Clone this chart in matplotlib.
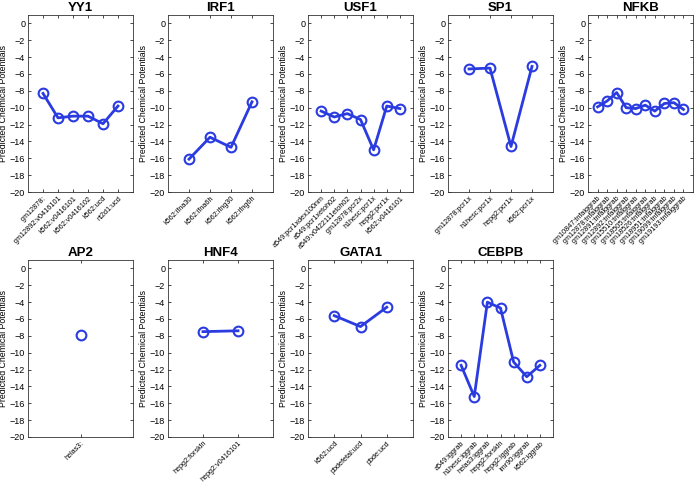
import matplotlib
matplotlib.use("Agg")
import matplotlib.pyplot as plt

plt.rcParams['font.family'] = ['Liberation Sans', 'DejaVu Sans']

# data
yy1_labels = ["gm12878:", "gm12892:v0416101", "k562:v0416101", "k562:v0416102", "k562:ucd", "nt2d1:ucd"]
yy1_vals = [-8.3, -11.2, -11.0, -11.0, -11.9, -9.8]

irf1_labels = ["k562:ifna30", "k562:ifna6h", "k562:ifng30", "k562:ifng6h"]
irf1_vals = [-16.1, -13.5, -14.7, -9.3]

usf1_labels = ["a549:pcr1xdex100nm", "a549:pcr1xetoh02", "a549:v0422111etoh02", "gm12878:pcr2x",
               "h1hesc:pcr1x", "hepg2:pcr1x", "k562:v0416101"]
usf1_vals = [-10.4, -11.1, -10.7, -11.4, -15.0, -9.8, -10.1]

sp1_labels = ["gm12878:pcr1x", "h1hesc:pcr1x", "hepg2:pcr1x", "k562:pcr1x"]
sp1_vals = [-5.4, -5.3, -14.6, -5.1]

nfkb_labels = ["gm10847:tnfaiggrab", "gm12878:tnfaiggrab", "gm12891:tnfaiggrab", "gm12892:tnfaiggrab",
               "gm15510:tnfaiggrab", "gm18505:tnfaiggrab", "gm18526:tnfaiggrab", "gm18951:tnfaiggrab",
               "gm19099:tnfaiggrab", "gm19193:tnfaiggrab"]
nfkb_vals = [-9.9, -9.2, -8.2, -10.0, -10.1, -9.7, -10.4, -9.5, -9.4, -10.2]

ap2_labels = ["helas3:"]
ap2_vals = [-7.9]

hnf4_labels = ["hepg2:forskln", "hepg2:v0416101"]
hnf4_vals = [-7.5, -7.4]

gata1_labels = ["k562:ucd", "pbdefetal:ucd", "pbde:ucd"]
gata1_vals = [-5.6, -6.9, -4.6]

cebpb_labels = ["a549:iggrab", "h1hesc:iggrab", "helas3:iggrab", "hepg2:forskln",
                "hepg2:iggrab", "imr90:iggrab", "k562:iggrab"]
cebpb_vals = [-11.5, -15.2, -4.0, -4.7, -11.1, -12.85, -11.5]

panels = [
    ("YY1", yy1_labels, yy1_vals),
    ("IRF1", irf1_labels, irf1_vals),
    ("USF1", usf1_labels, usf1_vals),
    ("SP1", sp1_labels, sp1_vals),
    ("NFKB", nfkb_labels, nfkb_vals),
    ("AP2", ap2_labels, ap2_vals),
    ("HNF4", hnf4_labels, hnf4_vals),
    ("GATA1", gata1_labels, gata1_vals),
    ("CEBPB", cebpb_labels, cebpb_vals),
]

W, H = 696, 482
fig = plt.figure(figsize=(W / 100, H / 100), dpi=100)
blue = "#2a3be0"

for i, (title, labels, vals) in enumerate(panels):
    row, col = divmod(i, 5)
    left = 28 + 140 * col
    top = 15 if row == 0 else 260
    ax = fig.add_axes([left / W, 1 - (top + 177) / H, 105 / W, 177 / H])
    x = list(range(1, len(vals) + 1))
    ax.plot(x, vals, "-o", color=blue, lw=2, ms=7, mfc="none", mew=1.5)
    ax.set_xlim(0, len(vals) + 1)
    ax.set_ylim(-20, 1)
    ax.set_yticks(range(-20, 1, 2))
    ax.set_xticks(x)
    ax.set_xticklabels(labels, rotation=45, ha="right", rotation_mode="anchor", fontsize=5.2)
    ax.tick_params(axis="y", labelsize=6.5)
    ax.tick_params(direction="in", length=2, width=0.5, top=True, right=True, pad=2)
    for s in ax.spines.values():
        s.set_linewidth(0.6)
        s.set_color("#333333")
    ax.set_title(title, fontsize=9.5, fontweight="bold", pad=3)
    ax.set_ylabel("Predicted Chemical Potentials", fontsize=6.3, labelpad=1)

fig.savefig("out.png", dpi=100)
